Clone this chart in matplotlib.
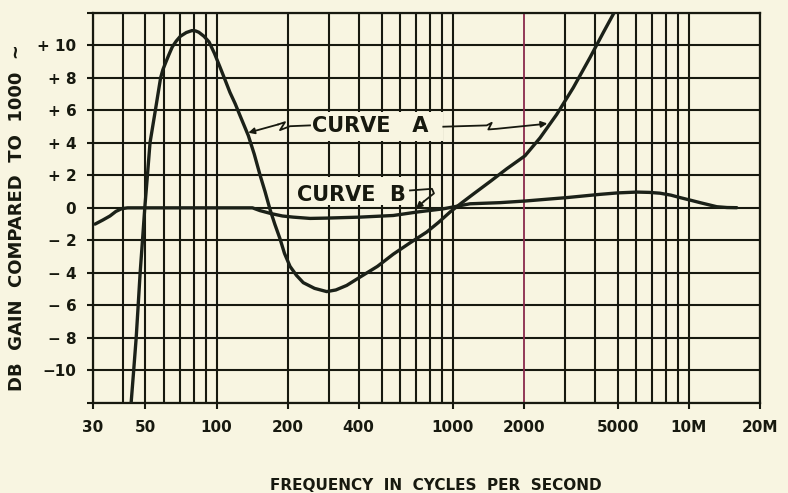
import matplotlib
matplotlib.use('Agg')
import matplotlib.pyplot as plt

# colours of the old printed chart
bg = '#f8f5e1'
ink = '#17190f'
curve_col = '#1b2118'
maroon = '#8a2a4c'

plt.rcParams['font.family'] = ['DejaVu Sans']
plt.rcParams['font.weight'] = 'bold'

# curve A (Hz, dB)
freq_a = [43.5, 44.6, 45.7, 46.6, 47.5, 48.6, 49.7, 51.0, 52.3, 55.1, 58.0, 59.3,
          61.0, 62.8, 65.0, 67.5, 70.3, 74.5, 78.7, 81.5, 84.1, 88.5, 93, 98,
          103.5, 108.5, 114, 120, 125.8, 136.4, 144.5, 153, 160.5, 168.5, 176.5,
          185.7, 194, 204.8, 218, 233, 260, 292.8, 320, 355.8, 405, 480, 560,
          660, 776, 870, 974, 1090, 1223, 1450, 1693, 2023, 2342, 2755, 3240,
          3813, 4341, 4864]
gain_a = [-12, -10, -8, -6, -4, -2, 0, 2, 4, 6, 8, 8.5,
          8.95, 9.4, 9.9, 10.25, 10.55, 10.78, 10.9, 10.88, 10.8, 10.55, 10.2, 9.5,
          8.65, 7.9, 7.1, 6.4, 5.67, 4.44, 3.3, 2.0, 1.0, -0.1, -1.0,
          -1.9, -2.8, -3.6, -4.15, -4.6, -4.95, -5.15, -5.05, -4.77, -4.26, -3.6, -2.85,
          -2.15, -1.49, -0.9, -0.26, 0.3, 0.85, 1.65, 2.4, 3.2, 4.3, 5.74, 7.39,
          9.24, 10.78, 12.1]

# curve B (Hz, dB)
freq_b = [30.6, 33, 35.4, 37.5, 39.7, 42, 50, 100, 142, 152.8, 170, 190, 211, 249,
          292.8, 405, 560, 704, 912, 1184, 1586, 2023, 3038, 4204, 5000, 6015, 6800,
          7551, 8400, 9178, 10100, 11150, 13120, 14500, 15950]
gain_b = [-1.0, -0.75, -0.5, -0.22, -0.05, 0, 0, 0, 0, -0.17, -0.35, -0.5, -0.57, -0.65,
          -0.63, -0.57, -0.47, -0.26, -0.06, 0.25, 0.32, 0.42, 0.63, 0.83, 0.92, 0.97, 0.95,
          0.9, 0.78, 0.63, 0.48, 0.32, 0.07, 0.02, 0.01]

xtick_vals = [30, 50, 100, 200, 400, 1000, 2000, 5000, 10000, 20000]
xtick_labels = ['30', '50', '100', '200', '400', '1000', '2000', '5000', '10M', '20M']
ytick_vals = list(range(-12, 13, 2))
ytick_labels = ['', '−10', '− 8', '− 6', '− 4', '− 2', '0',
                '+ 2', '+ 4', '+ 6', '+ 8', '+ 10', '']

fig = plt.figure(figsize=(7.88, 4.93), dpi=100, facecolor=bg)
ax = fig.add_axes([93 / 788, 1 - 403 / 493, 667 / 788, 390.3 / 493])
ax.set_facecolor(bg)
ax.set_xscale('log')
ax.set_xlim(30, 20000)
ax.set_ylim(-12, 12)

# log paper grid, the 2000 line is printed in red
grid_f = [m * 10 ** e for e in range(1, 5) for m in range(1, 10)
          if 30 <= m * 10 ** e <= 20000]
for f in grid_f:
    if f == 2000:
        ax.axvline(f, color=maroon, lw=1.3, zorder=0.7)
    else:
        ax.axvline(f, color=ink, lw=1.5, zorder=0.6)
for g in ytick_vals:
    ax.axhline(g, color=ink, lw=1.5, zorder=0.6)

# blank patches behind the captions
ax.fill([205, 910, 910, 205], [4.12, 4.12, 5.88, 5.88], color=bg, lw=0, zorder=1)
ax.fill([205, 659, 659, 205], [0.15, 0.15, 1.9, 1.9], color=bg, lw=0, zorder=1)

ax.plot(freq_a, gain_a, color=curve_col, lw=2.4, solid_capstyle='round',
        solid_joinstyle='round', zorder=3)
ax.plot(freq_b, gain_b, color=curve_col, lw=2.4, solid_capstyle='round',
        solid_joinstyle='round', zorder=3)

# captions with hand drawn pointers
ax.text(252.9, 5.13, 'CURVE   A', fontsize=15, color=ink, ha='left',
        va='center_baseline', zorder=4)
ax.text(218.5, 0.93, 'CURVE  B', fontsize=15, color=ink, ha='left',
        va='center_baseline', zorder=4)

arrows = [
    ([248.8, 204.7, 185.7, 195, 182.6, 136.3], [5.07, 5.02, 4.78, 5.27, 5.13, 4.62]),
    ([912.6, 1393, 1463, 1415, 1536, 2342, 2515], [4.99, 5.07, 5.23, 4.82, 4.86, 5.13, 5.19]),
    ([659.6, 817, 833, 756, 699], [1.07, 1.17, 0.89, 0.40, -0.03]),
]
for xs, ys in arrows:
    ax.plot(xs[:-1], ys[:-1], color=ink, lw=1.3, zorder=4)
    ax.annotate('', xy=(xs[-1], ys[-1]), xytext=(xs[-2], ys[-2]),
                arrowprops=dict(arrowstyle='-|>', color=ink, lw=1.3,
                                mutation_scale=9, shrinkA=0, shrinkB=0), zorder=4)

ax.xaxis.set_major_locator(plt.FixedLocator(xtick_vals))
ax.xaxis.set_minor_locator(plt.NullLocator())
ax.set_xticklabels(xtick_labels)
ax.set_yticks(ytick_vals)
ax.set_yticklabels(ytick_labels)
ax.tick_params(axis='both', direction='out', length=4, width=1.5, color=ink,
               labelcolor=ink, labelsize=11)
ax.tick_params(axis='x', pad=8)
ax.tick_params(axis='y', pad=8)
for s in ax.spines.values():
    s.set_color(ink)
    s.set_linewidth(1.6)

fig.text(17.5 / 788, 1 - 217.5 / 493, 'DB  GAIN  COMPARED  TO  1000  ~', rotation=90,
         ha='center', va='center', fontsize=13, color=ink)
fig.text(436 / 788, 1 - 485 / 493, 'FREQUENCY  IN  CYCLES  PER  SECOND',
         ha='center', va='center', fontsize=11, color=ink)

fig.savefig('out.png', dpi=100, facecolor=bg)
